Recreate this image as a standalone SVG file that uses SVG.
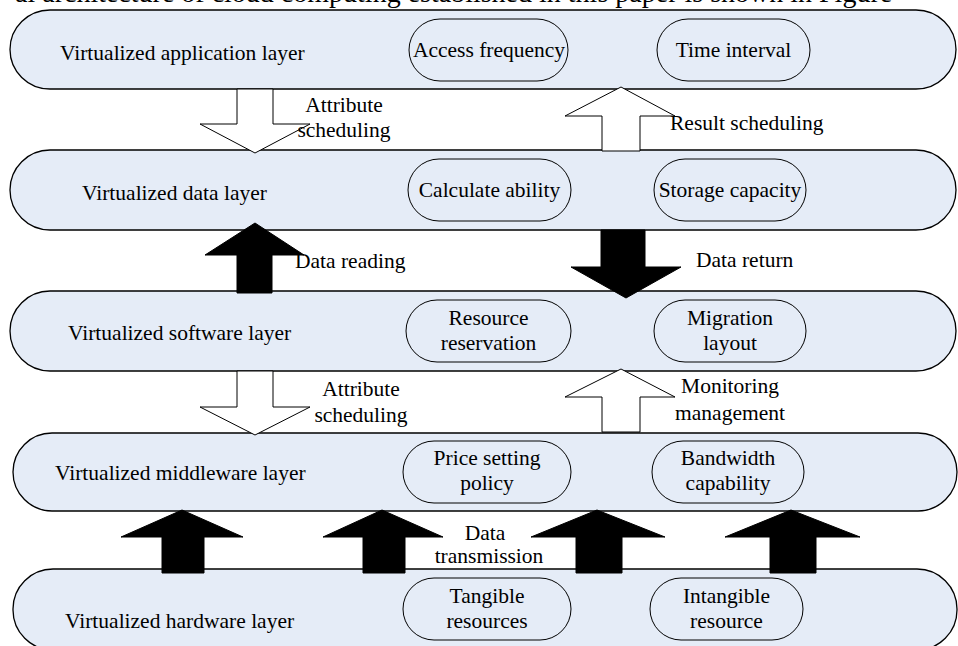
<svg xmlns="http://www.w3.org/2000/svg" width="958" height="646" viewBox="0 0 958 646">
<style>
.layer{fill:#E5ECF7;stroke:#000;stroke-width:1.3}
.item{fill:#E5ECF7;stroke:#000;stroke-width:1}
.hollow{fill:#fff;stroke:#000;stroke-width:1}
.solid{fill:#000;stroke:#000;stroke-width:1}
text{font-family:"Liberation Serif","Times New Roman",serif;font-size:21.5px;fill:#000}
.c{text-anchor:middle}
.hdr{font-size:28px}
</style>
<rect width="958" height="646" fill="#fff"/>
<text class="hdr" x="15" y="2">al architecture of cloud computing established in this paper is shown in Figure</text>

<g id="layer-application">
<rect class="layer" x="10" y="10" width="946" height="79" rx="40" ry="40"/>
<text x="60" y="60">Virtualized application layer</text>
</g>
<g id="node-access-frequency">
<rect class="item" x="409" y="19" width="159" height="62" rx="31" ry="31"/>
<text class="c" x="489" y="57">Access frequency</text>
</g>
<g id="node-time-interval">
<rect class="item" x="657" y="19" width="153" height="62" rx="31" ry="31"/>
<text class="c" x="733.5" y="57">Time interval</text>
</g>

<g id="layer-data">
<rect class="layer" x="10" y="150" width="946" height="80" rx="40" ry="40"/>
<text x="82" y="200">Virtualized data layer</text>
</g>
<g id="node-calculate-ability">
<rect class="item" x="408" y="159" width="163" height="62" rx="31" ry="31"/>
<text class="c" x="489.5" y="197">Calculate ability</text>
</g>
<g id="node-storage-capacity">
<rect class="item" x="654" y="159" width="152" height="62" rx="31" ry="31"/>
<text class="c" x="730" y="197">Storage capacity</text>
</g>

<g id="layer-software">
<rect class="layer" x="10" y="291" width="946" height="80" rx="40" ry="40"/>
<text x="68" y="340">Virtualized software layer</text>
</g>
<g id="node-resource-reservation">
<rect class="item" x="406" y="300" width="165" height="62" rx="31" ry="31"/>
<text class="c" x="488.5" y="325">Resource</text>
<text class="c" x="488.5" y="350">reservation</text>
</g>
<g id="node-migration-layout">
<rect class="item" x="654" y="300" width="152" height="62" rx="31" ry="31"/>
<text class="c" x="730" y="325">Migration</text>
<text class="c" x="730" y="350">layout</text>
</g>

<g id="layer-middleware">
<rect class="layer" x="13" y="433" width="944" height="78" rx="39" ry="39"/>
<text x="55" y="480">Virtualized middleware layer</text>
</g>
<g id="node-price-setting-policy">
<rect class="item" x="403" y="441" width="168" height="62" rx="31" ry="31"/>
<text class="c" x="487" y="465">Price setting</text>
<text class="c" x="487" y="490">policy</text>
</g>
<g id="node-bandwidth-capability">
<rect class="item" x="652" y="441" width="152" height="62" rx="31" ry="31"/>
<text class="c" x="728" y="465">Bandwidth</text>
<text class="c" x="728" y="490">capability</text>
</g>

<g id="layer-hardware">
<rect class="layer" x="13" y="569" width="944" height="81" rx="40" ry="40"/>
<text x="65" y="628">Virtualized hardware layer</text>
</g>
<g id="node-tangible-resources">
<rect class="item" x="403" y="578" width="168" height="62" rx="31" ry="31"/>
<text class="c" x="487" y="603">Tangible</text>
<text class="c" x="487" y="628">resources</text>
</g>
<g id="node-intangible-resource">
<rect class="item" x="650" y="578" width="153" height="62" rx="31" ry="31"/>
<text class="c" x="726.5" y="603">Intangible</text>
<text class="c" x="726.5" y="628">resource</text>
</g>

<g id="connectors">
<polygon class="hollow" points="237,89 273,89 273,124 310,124 255,153 200,124 237,124"/>
<polygon class="hollow" points="602,151 640,151 640,116 675,116 621,87 565,116 602,116"/>
<polygon class="solid" points="237,293 272,293 272,255 304,255 255,223 205,255 237,255"/>
<polygon class="solid" points="601,230 645,230 645,267 681,267 626,298 571,267 601,267"/>
<polygon class="hollow" points="237,371 273,371 273,407 310,407 255,435 200,407 237,407"/>
<polygon class="hollow" points="602,432 640,432 640,397 675,397 621,369 565,397 602,397"/>
<polygon class="solid" points="162,573 204,573 204,537 243,537 182,510 121,537 162,537"/>
<polygon class="solid" points="363,573 405,573 405,537 443,537 382,510 323,537 363,537"/>
<polygon class="solid" points="576,573 622,573 622,537 665,537 597,510 531,537 576,537"/>
<polygon class="solid" points="770,573 816,573 816,537 860,537 791,510 725,537 770,537"/>
<text class="c" x="344" y="112">Attribute</text>
<text class="c" x="344" y="137">scheduling</text>
<text x="670" y="130">Result scheduling</text>
<text x="295" y="268">Data reading</text>
<text x="696" y="267">Data return</text>
<text class="c" x="361" y="396">Attribute</text>
<text class="c" x="361" y="422">scheduling</text>
<text class="c" x="730" y="393">Monitoring</text>
<text class="c" x="730" y="420">management</text>
<text class="c" x="485" y="540">Data</text>
<text class="c" x="489" y="563">transmission</text>
</g>
</svg>
